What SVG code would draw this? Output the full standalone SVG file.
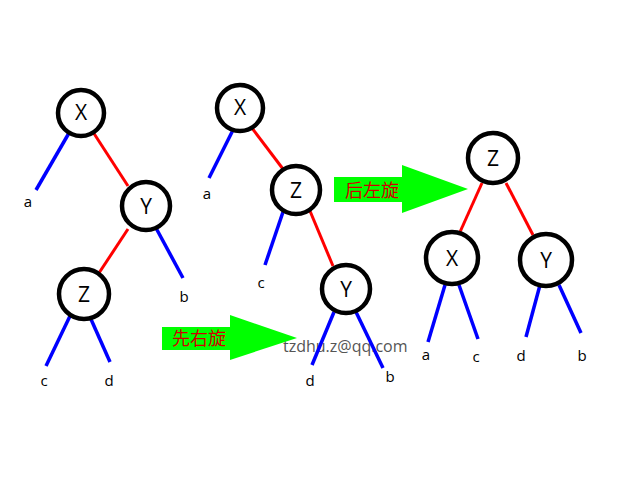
<svg xmlns="http://www.w3.org/2000/svg" width="640" height="480" viewBox="0 0 640 480">
<style>
.n circle{fill:#fff;stroke:#000;stroke-width:4.5}
.n text{font-family:"Open Sans","Liberation Sans",sans-serif;font-size:21px;text-anchor:middle;fill:#000}
.lf{font-family:"Open Sans","Liberation Sans",sans-serif;font-size:15px;text-anchor:middle;fill:#000}
.r{stroke:#f00;stroke-width:3}
.b{stroke:#00f;stroke-width:3.5}
.ar{fill:#00ff00}
.at{font-family:"Noto Sans CJK SC","Noto Sans CJK JP",sans-serif;font-size:18px;fill:#d00000}
.wm{font-family:"Open Sans","Liberation Sans",sans-serif;font-size:16px;fill:#555}
</style>
<rect width="640" height="480" fill="#fff"/>
<text class="wm" x="283" y="352">tzdhu.z@qq.com</text>
<g id="arrows">
<rect class="ar" x="162" y="327" width="70" height="23"/>
<polygon class="ar" points="230,315 297,338 230,360"/>
<text class="at" x="172" y="345">先右旋</text>
<rect class="ar" x="334" y="177" width="70" height="25"/>
<polygon class="ar" points="402,165 468,189 402,213"/>
<text class="at" x="345" y="197">后左旋</text>
</g>
<g id="connectors">
<line class="b" x1="69" y1="133" x2="36" y2="190"/>
<line class="r" x1="93" y1="132" x2="128" y2="186"/>
<line class="r" x1="128" y1="229" x2="99" y2="273"/>
<line class="b" x1="156" y1="228" x2="183" y2="278"/>
<line class="b" x1="70" y1="316" x2="46" y2="366"/>
<line class="b" x1="90" y1="317" x2="110" y2="362"/>
<line class="b" x1="234" y1="128" x2="209" y2="178"/>
<line class="r" x1="252" y1="128" x2="283" y2="169"/>
<line class="b" x1="283" y1="212" x2="265" y2="265"/>
<line class="r" x1="310" y1="211" x2="333" y2="266"/>
<line class="b" x1="334" y1="312" x2="312" y2="365"/>
<line class="b" x1="356" y1="312" x2="383" y2="368"/>
<line class="r" x1="482" y1="183" x2="460" y2="232"/>
<line class="r" x1="506" y1="183" x2="533" y2="235"/>
<line class="b" x1="445" y1="285" x2="428" y2="342"/>
<line class="b" x1="459" y1="285" x2="478" y2="339"/>
<line class="b" x1="540" y1="285" x2="526" y2="337"/>
<line class="b" x1="559" y1="285" x2="581" y2="333"/>
</g>
<g id="t1X" class="n"><circle cx="81" cy="113" r="23"/><text x="81" y="120">X</text></g>
<g id="t1Y" class="n"><circle cx="146" cy="206" r="24"/><text x="146" y="214">Y</text></g>
<g id="t1Z" class="n"><circle cx="84" cy="294" r="25"/><text x="84" y="302">Z</text></g>
<g id="t2X" class="n"><circle cx="240" cy="108" r="23"/><text x="240" y="115">X</text></g>
<g id="t2Z" class="n"><circle cx="296" cy="190" r="24"/><text x="296" y="198">Z</text></g>
<g id="t2Y" class="n"><circle cx="346" cy="289" r="24"/><text x="346" y="297">Y</text></g>
<g id="t3Z" class="n"><circle cx="493" cy="158" r="25"/><text x="493" y="166">Z</text></g>
<g id="t3X" class="n"><circle cx="452" cy="258" r="26"/><text x="452" y="266">X</text></g>
<g id="t3Y" class="n"><circle cx="546" cy="260" r="26"/><text x="546" y="268">Y</text></g>
<g id="leaves">
<text class="lf" x="28" y="207">a</text>
<text class="lf" x="184" y="302">b</text>
<text class="lf" x="44" y="386">c</text>
<text class="lf" x="109" y="386">d</text>
<text class="lf" x="207" y="199">a</text>
<text class="lf" x="261" y="288">c</text>
<text class="lf" x="310" y="386">d</text>
<text class="lf" x="390" y="382">b</text>
<text class="lf" x="426" y="360">a</text>
<text class="lf" x="476" y="362">c</text>
<text class="lf" x="521" y="361">d</text>
<text class="lf" x="582" y="361">b</text>
</g>
</svg>
